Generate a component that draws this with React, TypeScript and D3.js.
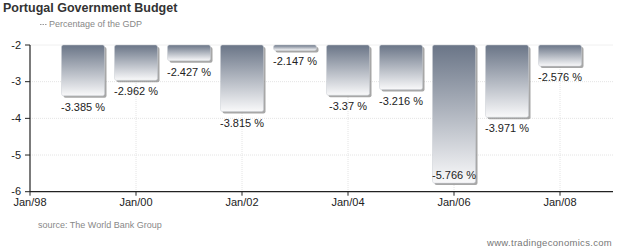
import React from "react";
import * as d3 from "d3";

const years = [1999, 2000, 2001, 2002, 2003, 2004, 2005, 2006, 2007, 2008];
const values = [-3.385, -2.962, -2.427, -3.815, -2.147, -3.37, -3.216, -5.766, -3.971, -2.576];
const labels = ["-3.385 %", "-2.962 %", "-2.427 %", "-3.815 %", "-2.147 %", "-3.37 %", "-3.216 %", "-5.766 %", "-3.971 %", "-2.576 %"];
const yTicks = [-2, -3, -4, -5, -6];
const xTickYears = [1998, 2000, 2002, 2004, 2006, 2008];
const xTickLabels = ["Jan/98", "Jan/00", "Jan/02", "Jan/04", "Jan/06", "Jan/08"];

const W = 640;
const H = 251;
const font = "Arial, 'Liberation Sans', sans-serif";

export default function App() {
  const x = d3.scaleLinear().domain([1998, 2009]).range([30, 613]);
  const y = d3.scaleLinear().domain([-2, -6]).range([45, 191.7]);
  const barW = 43;

  return (
    <svg width={W} height={H} style={{ position: "absolute", left: 0, top: 0 }} fontFamily={font}>
      <defs>
        <linearGradient id="barGrad" x1="0" y1="0" x2="0" y2="1">
          <stop offset="0%" stopColor="#6a7587" />
          <stop offset="100%" stopColor="#f9f9fa" />
        </linearGradient>
      </defs>
      <rect width={W} height={H} fill="#fff" />
      <text x={3} y={12} fontSize={12.5} fontWeight="bold" fill="#333">Portugal Government Budget</text>
      <line x1={40} x2={47} y1={24.5} y2={24.5} stroke="#999" strokeWidth={1} strokeDasharray="1.5,1" />
      <text x={49} y={27} fontSize={9} fill="#888">Percentage of the GDP</text>

      {/* grid */}
      <line x1={30} x2={613} y1={y(-2)} y2={y(-2)} stroke="#f0f0f0" />
      {yTicks.slice(1, 4).map((t) => (
        <line key={t} x1={30} x2={613} y1={y(t)} y2={y(t)} stroke="#e4e4e4" strokeDasharray="1,1" />
      ))}
      {xTickYears.slice(1).map((t) => (
        <line key={t} x1={x(t)} x2={x(t)} y1={y(-2)} y2={y(-6)} stroke="#e4e4e4" strokeDasharray="1,1" />
      ))}

      {/* bars */}
      {years.map((yr, i) => {
        const cx = x(yr);
        const top = y(-2);
        const bot = y(values[i]);
        const h = bot - top;
        const below = bot + 15 <= y(-6) - 4;
        const ly = below ? bot + 15 : bot - 4;
        return (
          <g key={yr}>
            <rect x={cx - barW / 2 + 2} y={top + 2} width={barW} height={h} rx={2} fill="#8a8a8a" opacity={0.75} />
            <rect x={cx - barW / 2} y={top} width={barW} height={h} rx={2} fill="url(#barGrad)" stroke="#c8ccd2" strokeWidth={0.5} />
            <text x={cx} y={ly} fontSize={11} textAnchor="middle" fill="#222">{labels[i]}</text>
          </g>
        );
      })}

      {/* axes */}
      <line x1={30} x2={30} y1={y(-2)} y2={y(-6)} stroke="#222" strokeWidth={1.2} />
      <line x1={30} x2={613} y1={y(-6)} y2={y(-6)} stroke="#222" strokeWidth={1.2} />
      {yTicks.map((t) => (
        <g key={t}>
          <line x1={25} x2={30} y1={y(t)} y2={y(t)} stroke="#222" />
          <text x={21} y={y(t) + 3.5} fontSize={11} textAnchor="end" fill="#222">{t}</text>
        </g>
      ))}
      {xTickYears.map((t, i) => (
        <g key={t}>
          <line x1={x(t)} x2={x(t)} y1={y(-6)} y2={y(-6) + 4} stroke="#222" />
          <text x={x(t)} y={206} fontSize={11} textAnchor="middle" fill="#222">{xTickLabels[i]}</text>
        </g>
      ))}

      <text x={38} y={228} fontSize={9} fill="#888">source: The World Bank Group</text>
      <text x={612} y={246} fontSize={9.5} textAnchor="end" fill="#777" letterSpacing={0.3}>www.tradingeconomics.com</text>
    </svg>
  );
}
